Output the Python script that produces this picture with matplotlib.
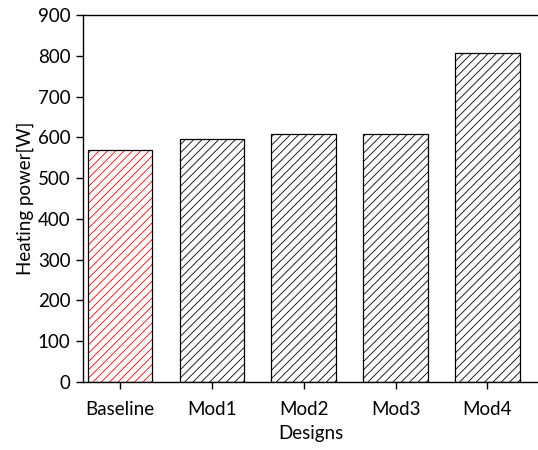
import numpy as np
import matplotlib.pyplot as plt

plt.rcParams['font.family'] = ['Lato', 'DejaVu Sans']
plt.rcParams['hatch.linewidth'] = 0.6

designs = ['Baseline', 'Mod1', 'Mod2', 'Mod3', 'Mod4']
power = [570, 597, 607, 608, 808]
hatch_colors = ['red', 'black', 'black', 'black', 'black']

fig = plt.figure(figsize=(5.38, 4.5), dpi=100)
ax = fig.add_axes([83 / 538, 68 / 450, 1 - 83 / 538, 367 / 450])

x = np.arange(len(designs))
# hatch layer, then black outline on top
ax.bar(x, power, width=0.7, color='white', edgecolor=hatch_colors,
       hatch='////', linewidth=0)
ax.bar(x, power, width=0.7, fill=False, edgecolor='black', linewidth=0.9)

ax.set_xlim(-0.4, 4.55)
ax.set_ylim(0, 900)
ax.set_yticks(range(0, 901, 100))
ax.set_xticks(x)
ax.set_xticklabels(designs)
ax.spines['right'].set_visible(False)
for s in ['left', 'top', 'bottom']:
    ax.spines[s].set_linewidth(1.0)
ax.tick_params(direction='out', length=5, width=1, labelsize=13.5, pad=4)
ax.tick_params(axis='x', pad=9)
ax.set_xlabel('Designs', fontsize=13.5, labelpad=5)
ax.set_ylabel('Heating power[W]', fontsize=13.5, labelpad=3)

fig.savefig('out.png', dpi=100)
